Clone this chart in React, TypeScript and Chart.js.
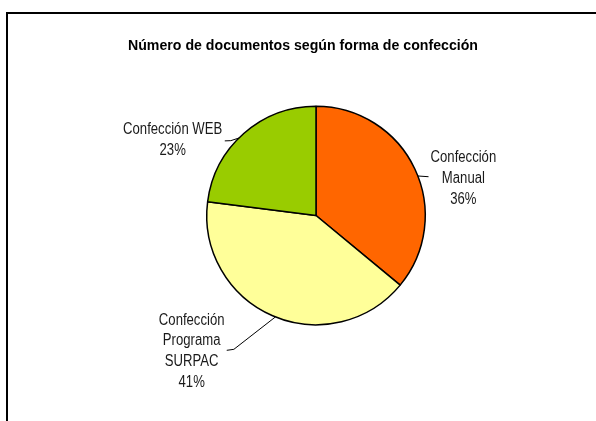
import { useEffect, useRef } from "react";
import { Chart, registerables } from "chart.js";

Chart.register(...registerables);

const titleText = "Número de documentos según forma de confección";
const categories: string[][] = [
  ["Confección", "Manual"],
  ["Confección", "Programa", "SURPAC"],
  ["Confección WEB"],
];
const values = [36, 41, 23];
const sliceColors = ["#FF6600", "#FFFF99", "#99CC00"];

// label first-line centre, relative to pie centre in radius units
const labelOffsets = [
  [1.349, -0.528],
  [-1.138, 0.959],
  [-1.312, -0.784],
];
// leader lines: start angle on the arc (degrees, canvas), then points in radius units
const leaders: { angle: number; pts: number[][] }[] = [
  { angle: -21.2, pts: [[1.03, -0.355]] },
  { angle: 111.8, pts: [[-0.752, 1.225], [-0.817, 1.234]] },
  { angle: -134.8, pts: [[-0.78, -0.685], [-0.835, -0.683]] },
];

const FONT_FAMILY = '"Liberation Sans", Arial, sans-serif';

function drawScaled(ctx: any, text: string, x: number, y: number, sx: number) {
  ctx.save();
  ctx.translate(x, y);
  ctx.scale(sx, 1);
  ctx.fillText(text, 0, 0);
  ctx.restore();
}

const decorPlugin = {
  id: "decor",
  beforeDraw(chart: any) {
    const ctx = chart.ctx;
    ctx.save();
    ctx.fillStyle = "#ffffff";
    ctx.fillRect(0, 0, chart.width, chart.height);
    ctx.strokeStyle = "#000000";
    ctx.lineWidth = 2;
    ctx.strokeRect(7, 13, chart.width + 20, chart.height + 20);
    ctx.fillStyle = "#000000";
    ctx.font = "bold 15.5px " + FONT_FAMILY;
    ctx.textAlign = "center";
    ctx.textBaseline = "middle";
    const w = ctx.measureText(titleText).width;
    drawScaled(ctx, titleText, 303, 46, 350 / w);
    ctx.restore();
  },
  afterDraw(chart: any) {
    const ctx = chart.ctx;
    const meta = chart.getDatasetMeta(0);
    const total = values.reduce((a, b) => a + b, 0);
    ctx.save();
    meta.data.forEach((arc: any, i: number) => {
      const { x, y, outerRadius } = arc.getProps(["x", "y", "outerRadius"], true);
      const ld = leaders[i];
      const a = (ld.angle * Math.PI) / 180;
      ctx.beginPath();
      ctx.strokeStyle = "#000000";
      ctx.lineWidth = 1;
      ctx.moveTo(x + Math.cos(a) * outerRadius, y + Math.sin(a) * outerRadius);
      ld.pts.forEach((p) => ctx.lineTo(x + p[0] * outerRadius, y + p[1] * outerRadius));
      ctx.stroke();
      const lines = [...categories[i], Math.round((values[i] / total) * 100) + "%"];
      const lx = x + labelOffsets[i][0] * outerRadius;
      let ly = y + labelOffsets[i][1] * outerRadius;
      ctx.fillStyle = "#1a1a1a";
      ctx.font = "16px " + FONT_FAMILY;
      ctx.textAlign = "center";
      ctx.textBaseline = "middle";
      lines.forEach((t) => {
        drawScaled(ctx, t, lx, ly, 0.82);
        ly += 20.7;
      });
    });
    ctx.restore();
  },
};

export default function App() {
  const ref = useRef<HTMLCanvasElement>(null);
  useEffect(() => {
    if (!ref.current) return;
    const chart = new Chart(ref.current, {
      type: "pie",
      data: {
        labels: categories.map((c) => c.join(" ")),
        datasets: [
          {
            data: values,
            backgroundColor: sliceColors,
            borderColor: "#000000",
            borderWidth: 1.5,
          },
        ],
      },
      options: {
        responsive: false,
        animation: false,
        devicePixelRatio: 1,
        layout: { padding: { left: 206, right: 170, top: 105, bottom: 95 } },
        plugins: {
          legend: { display: false },
          tooltip: { enabled: false },
          title: { display: false },
        },
      },
      plugins: [decorPlugin],
    });
    return () => chart.destroy();
  }, []);
  return (
    <div style={{ position: "absolute", left: 0, top: 0, width: 596, height: 421 }}>
      <canvas ref={ref} width={596} height={421} style={{ display: "block" }} />
    </div>
  );
}
